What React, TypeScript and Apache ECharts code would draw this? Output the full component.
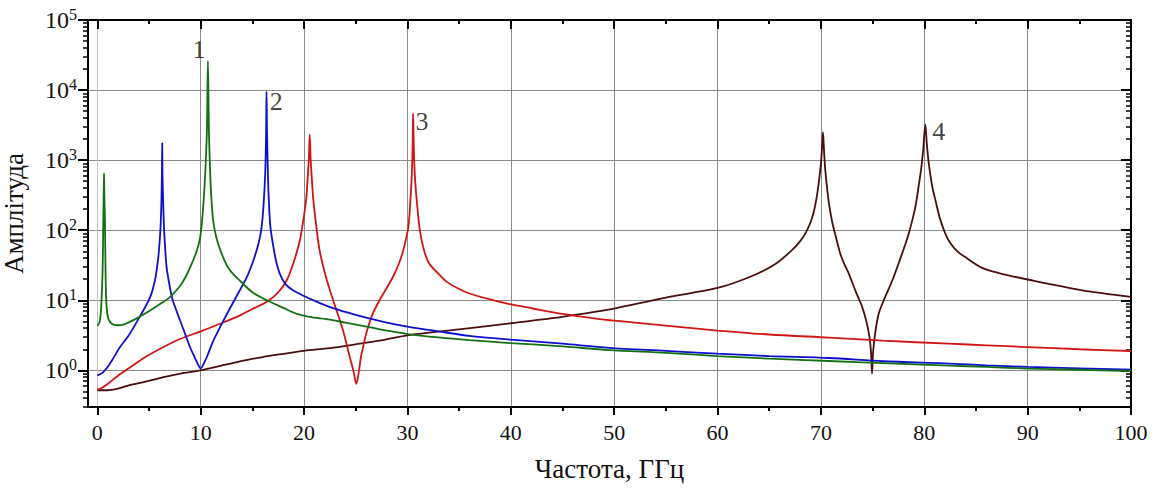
import { useEffect, useRef } from "react";
import * as echarts from "echarts";

const FONT = "'Liberation Serif', 'Times New Roman', serif";

// Axis ticks
const xMajorTicks = [0, 10, 20, 30, 40, 50, 60, 70, 80, 90, 100];
const xMinorTicks = [5, 15, 25, 35, 45, 55, 65, 75, 85, 95];
const yMajorTicks = [1, 10, 100, 1000, 10000, 100000];
const yMinorTicks = [
  0.3, 0.4, 0.5, 0.6, 0.7, 0.8, 0.9,
  2, 3, 4, 5, 6, 7, 8, 9,
  20, 30, 40, 50, 60, 70, 80, 90,
  200, 300, 400, 500, 600, 700, 800, 900,
  2000, 3000, 4000, 5000, 6000, 7000, 8000, 9000,
  20000, 30000, 40000, 50000, 60000, 70000, 80000, 90000,
];

// Curve 1 (green)
const curve1: [number, number][] = [
  [0, 4.3], [0.2, 4.8], [0.33, 6.4], [0.45, 14], [0.52, 30], [0.58, 139], [0.62, 350], [0.65, 650],
  [0.68, 330], [0.74, 139], [0.81, 19], [0.9, 8], [1.06, 5.5], [1.3, 4.8], [1.55, 4.5], [2.0, 4.4],
  [2.5, 4.5], [3.0, 4.8], [4.1, 5.8], [5, 7], [6, 8.7], [7, 11], [8, 16], [8.5, 21], [9, 30],
  [9.5, 45], [9.9, 72], [10.1, 120], [10.3, 280], [10.45, 700], [10.6, 2500], [10.7, 26000],
  [10.8, 2500], [10.9, 800], [11.0, 350], [11.2, 140], [11.5, 80], [11.9, 52], [12.5, 32],
  [13, 25], [13.8, 19], [15, 13], [16.4, 10], [18, 7.8], [19.3, 6.4], [20.5, 5.8], [22.5, 5.3],
  [24, 4.8], [26.3, 4.15], [28, 3.7], [30, 3.3], [33, 2.95], [36, 2.7], [40, 2.45], [45, 2.2],
  [49.5, 1.95], [55, 1.78], [60, 1.6], [65, 1.47], [70.8, 1.36], [76, 1.27], [82.4, 1.17],
  [86, 1.12], [90, 1.06], [95, 1.02], [100, 0.98],
];

// Curve 2 (blue)
const curve2: [number, number][] = [
  [0, 0.85], [0.5, 0.92], [1, 1.12], [1.5, 1.45], [2.2, 2.15], [3, 3.1], [4.1, 5.8], [5.1, 11],
  [5.6, 20], [5.9, 41], [6.0, 60], [6.12, 112], [6.2, 250], [6.25, 600], [6.28, 1750], [6.31, 600],
  [6.37, 250], [6.45, 112], [6.55, 60], [6.7, 30], [7.0, 16], [7.3, 10], [8, 5.2], [8.6, 3.0],
  [9.0, 2.1], [9.4, 1.55], [9.7, 1.25], [10.0, 1.06], [10.3, 1.25], [10.6, 1.55], [11.2, 2.6],
  [11.9, 4.2], [12.8, 7.5], [13.8, 14], [14.5, 22], [15.1, 37], [15.6, 65], [15.9, 112],
  [16.1, 250], [16.25, 700], [16.33, 2500], [16.37, 9500], [16.42, 2500], [16.5, 700],
  [16.6, 250], [16.75, 110], [17.0, 62], [17.3, 36], [17.65, 24], [18.2, 17], [18.9, 14],
  [20, 11.5], [20.9, 10], [22.5, 8.0], [24.5, 6.5], [26.3, 5.5], [28, 4.8], [30, 4.2], [33, 3.6],
  [36, 3.1], [40, 2.74], [45, 2.4], [49.5, 2.1], [55, 1.9], [60, 1.73], [65, 1.6], [70.8, 1.5],
  [76, 1.35], [82.4, 1.25], [86, 1.18], [90, 1.12], [95, 1.07], [100, 1.02],
];

// Curve 3 (red)
const curve3: [number, number][] = [
  [0, 0.53], [0.5, 0.57], [1, 0.64], [2, 0.84], [3.2, 1.11], [4.5, 1.5], [6.4, 2.15], [8, 2.8],
  [10, 3.6], [12, 4.7], [13.8, 6.1], [15, 7.5], [16.4, 9.5], [17.5, 13], [18.3, 19], [19.0, 35],
  [19.6, 72], [19.9, 130], [20.2, 270], [20.35, 550], [20.47, 1100], [20.55, 2330], [20.63, 1100],
  [20.75, 550], [20.9, 270], [21.2, 110], [21.5, 52], [22, 25], [22.5, 14], [23.1, 7.5],
  [23.8, 3.6], [24.4, 1.6], [24.8, 0.95], [25.06, 0.64], [25.3, 0.95], [25.5, 1.55], [25.7, 2.1],
  [26.0, 3.3], [26.6, 6.2], [27.3, 10], [28, 15], [28.6, 21.5], [29.2, 34], [29.6, 52], [29.9, 80],
  [30.1, 112], [30.3, 280], [30.42, 600], [30.5, 1500], [30.55, 4650], [30.62, 1500],
  [30.72, 600], [30.9, 270], [31.2, 100], [31.6, 52], [32.1, 33.5], [33, 24], [33.8, 18.3],
  [35, 14.5], [36, 12.5], [38, 10.3], [39.9, 8.8], [42, 7.7], [45, 6.4], [48.6, 5.4], [52, 4.8],
  [56, 4.2], [60, 3.7], [65, 3.25], [70.8, 2.93], [76, 2.65], [82.4, 2.4], [86, 2.28], [90, 2.15],
  [95, 2.0], [100, 1.89],
];

// Curve 4 (brown)
const curve4: [number, number][] = [
  [0, 0.52], [1, 0.52], [2, 0.55], [3.2, 0.62], [4.5, 0.68], [6.4, 0.8], [8, 0.9], [10, 1.0],
  [12, 1.17], [14.4, 1.4], [16, 1.55], [18, 1.72], [20, 1.9], [22.5, 2.08], [25, 2.35],
  [27.3, 2.65], [30, 3.16], [35, 3.85], [40, 4.7], [45, 5.8], [48.6, 7.0], [50, 7.6], [55, 10.9],
  [60, 15], [63.1, 21.5], [65.6, 33], [67.2, 52], [68.0, 70], [68.5, 90], [69.0, 130],
  [69.3, 180], [69.6, 300], [69.8, 480], [70.0, 900], [70.1, 1400], [70.2, 2500], [70.3, 1400],
  [70.4, 800], [70.6, 400], [70.8, 230], [71.1, 130], [71.5, 75], [71.9, 45], [72.3, 32],
  [72.7, 24], [73.4, 13], [74.0, 8], [74.4, 5], [74.7, 3], [74.85, 1.8], [74.95, 0.9],
  [75.05, 1.8], [75.25, 3.4], [75.6, 6.5], [76.2, 11], [76.9, 19], [77.7, 40], [78.2, 65],
  [78.5, 90], [78.9, 150], [79.2, 240], [79.5, 470], [79.7, 750], [79.9, 1400], [80.1, 3250],
  [80.25, 1700], [80.4, 1000], [80.6, 600], [80.8, 400], [81.1, 260], [81.5, 150], [82.0, 92],
  [82.5, 66], [83.2, 50], [84.0, 41], [85.6, 29], [87.2, 24.5], [90, 19.8], [95.3, 13.9],
  [100, 11.2],
];

// Curve number labels
const labelTexts = ["1", "2", "3", "4"];
const labelX = [9.83, 17.3, 31.4, 81.4];
const labelY = [38500, 6950, 3600, 2600];

const colors = ["#137013", "#1010cc", "#d01515", "#4a0e0e"];
const xGridColors = ["#c4c4c4", "#8a8a8a", "#8a8a8a", "#8a8a8a", "#8a8a8a", "#8a8a8a", "#8a8a8a", "#8a8a8a", "#8a8a8a", "#8a8a8a", "#8a8a8a"];

export default function App() {
  const ref = useRef<HTMLDivElement>(null);
  useEffect(() => {
    if (!ref.current) return;
    const chart = echarts.init(ref.current, undefined, { renderer: "svg" });
    const xBase = {
      type: "value" as const,
      min: -0.9,
      max: 100,
      gridIndex: 0,
    };
    const yBase = {
      type: "log" as const,
      logBase: 10,
      min: 0.3,
      max: 100000,
      gridIndex: 0,
    };
    const sup = (v: number) => `{b|10}{s|${Math.round(Math.log10(v))}}`;
    chart.setOption({
      animation: false,
      backgroundColor: "#ffffff",
      grid: { left: 88, right: 23, top: 20, bottom: 84, containLabel: false, outerBoundsMode: "none" },
      xAxis: [
        {
          ...xBase,
          position: "bottom",
          name: "Частота, ГГц",
          nameLocation: "middle",
          nameGap: 48,
          nameTextStyle: { fontFamily: FONT, fontSize: 27, color: "#111" },
          axisLine: { show: true, onZero: false, lineStyle: { color: "#000", width: 2 } },
          axisTick: { show: true, inside: false, length: 8, customValues: xMajorTicks, lineStyle: { color: "#000", width: 2 } },
          axisLabel: { show: true, customValues: xMajorTicks, margin: 14, fontFamily: FONT, fontSize: 22, color: "#111" },
          splitLine: { show: true, lineStyle: { color: xGridColors, width: 1 } },
        },
        {
          ...xBase,
          position: "bottom",
          axisLine: { show: false, onZero: false },
          axisTick: { show: true, inside: false, length: 4, customValues: xMinorTicks, lineStyle: { color: "#000", width: 2 } },
          axisLabel: { show: false },
          splitLine: { show: false },
        },
        {
          ...xBase,
          position: "top",
          axisLine: { show: true, onZero: false, lineStyle: { color: "#000", width: 2 } },
          axisTick: { show: true, inside: true, length: 9, customValues: xMajorTicks, lineStyle: { color: "#000", width: 2 } },
          axisLabel: { show: false },
          splitLine: { show: false },
        },
        {
          ...xBase,
          position: "top",
          axisLine: { show: false, onZero: false },
          axisTick: { show: true, inside: true, length: 4, customValues: xMinorTicks, lineStyle: { color: "#000", width: 2 } },
          axisLabel: { show: false },
          splitLine: { show: false },
        },
      ],
      yAxis: [
        {
          ...yBase,
          position: "left",
          name: "Амплітуда",
          nameLocation: "middle",
          nameGap: 61,
          nameRotate: 90,
          nameTextStyle: { fontFamily: FONT, fontSize: 27, color: "#111" },
          axisLine: { show: true, onZero: false, lineStyle: { color: "#000", width: 2 } },
          axisTick: { show: true, inside: false, length: 10, customValues: yMajorTicks, lineStyle: { color: "#000", width: 2 } },
          axisLabel: {
            show: true,
            customValues: yMajorTicks,
            margin: 11,
            formatter: (v: number) => sup(v),
            rich: {
              b: { fontFamily: FONT, fontSize: 24, color: "#111" },
              s: { fontFamily: FONT, fontSize: 16, color: "#111", padding: [0, 0, 11, 0] },
            },
          },
          splitLine: { show: true, lineStyle: { color: "#8a8a8a", width: 1 } },
        },
        {
          ...yBase,
          position: "left",
          axisLine: { show: false, onZero: false },
          axisTick: { show: true, inside: false, length: 5, customValues: yMinorTicks, lineStyle: { color: "#000", width: 1.5 } },
          axisLabel: { show: false },
          splitLine: { show: false },
        },
        {
          ...yBase,
          position: "right",
          axisLine: { show: true, onZero: false, lineStyle: { color: "#000", width: 2 } },
          axisTick: { show: true, inside: true, length: 10, customValues: yMajorTicks, lineStyle: { color: "#000", width: 2 } },
          axisLabel: { show: false },
          splitLine: { show: false },
        },
        {
          ...yBase,
          position: "right",
          axisLine: { show: false, onZero: false },
          axisTick: { show: true, inside: true, length: 5, customValues: yMinorTicks, lineStyle: { color: "#000", width: 1.5 } },
          axisLabel: { show: false },
          splitLine: { show: false },
        },
      ],
      series: [
        ...[curve1, curve2, curve3, curve4].map((d, i) => ({
          type: "line" as const,
          name: `curve${i + 1}`,
          xAxisIndex: 0,
          yAxisIndex: 0,
          data: d,
          showSymbol: false,
          symbol: "none",
          smooth: 0.3,
          lineStyle: { color: colors[i], width: 1.8 },
          z: 4 - i + 2,
        })),
        {
          type: "scatter" as const,
          name: "labels",
          xAxisIndex: 0,
          yAxisIndex: 0,
          symbolSize: 0,
          data: labelTexts.map((t, i) => ({ name: t, value: [labelX[i], labelY[i]] })),
          label: {
            show: true,
            position: "inside",
            formatter: (p: any) => p.name,
            fontFamily: FONT,
            fontSize: 26,
            color: "#111",
          },
          z: 10,
        },
      ],
    });
    return () => chart.dispose();
  }, []);
  return (
    <div
      ref={ref}
      style={{ position: "fixed", left: 0, top: 0, width: 1154, height: 491, background: "#fff" }}
    />
  );
}
